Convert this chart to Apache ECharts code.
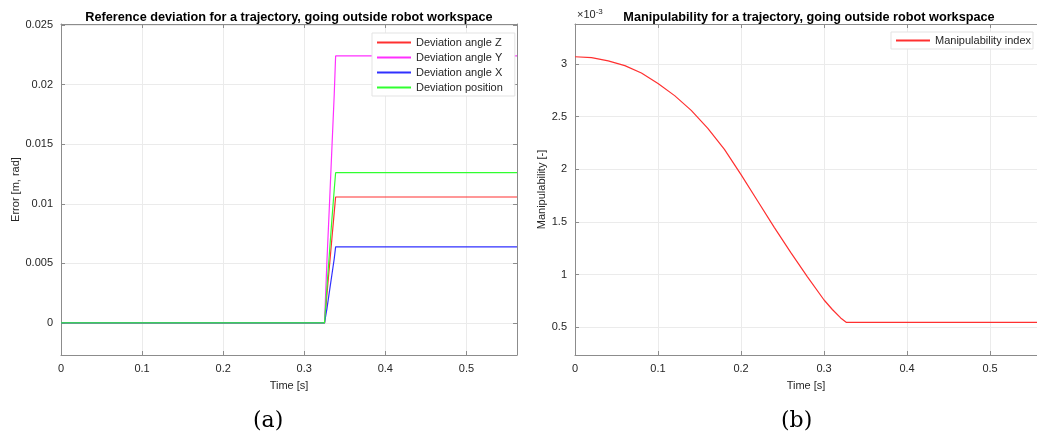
<!DOCTYPE html>
<html>
<head>
<meta charset="utf-8">
<script src="https://cdn.jsdelivr.net/npm/echarts@6/dist/echarts.min.js"></script>
<style>
  html, body { margin: 0; padding: 0; background: #fff; }
  #chart { width: 1037px; height: 439px; }
</style>
</head>
<body>
<div id="chart"></div>
<script>
// ---- (a) reference deviation ----
const devTime   = [0, 0.3250, 0.3280, 0.3310, 0.3340, 0.3370, 0.3387, 0.5624];
const devAngleZ = [0, 0, 0.0024, 0.0047, 0.0070, 0.0093, 0.01057, 0.01057];
const devAngleY = [0, 0, 0.0052, 0.0098, 0.0145, 0.0192, 0.02242, 0.02242];
const devAngleX = [0, 0, 0.0012, 0.0026, 0.0040, 0.0054, 0.00638, 0.00638];
const devPos    = [0, 0, 0.0030, 0.0058, 0.0086, 0.0112, 0.01261, 0.01261];
const devYTicks = [0, 0.005, 0.01, 0.015, 0.02, 0.025];

// ---- (b) manipulability, in units of 1e-3 ----
const manTime  = [0, 0.02, 0.04, 0.06, 0.08, 0.10, 0.12, 0.14, 0.16, 0.18, 0.20,
                  0.22, 0.24, 0.26, 0.28, 0.30, 0.31, 0.32, 0.327, 0.5565];
const manIndex = [3.069, 3.060, 3.030, 2.985, 2.915, 2.815, 2.700, 2.560, 2.390, 2.190, 1.950,
                  1.700, 1.450, 1.210, 0.980, 0.760, 0.670, 0.590, 0.547, 0.547];
const manYTicks = [0.5, 1, 1.5, 2, 2.5, 3];

const xTicks = [0, 0.1, 0.2, 0.3, 0.4, 0.5];

const pairs = (xs, ys) => xs.map((x, i) => [x, ys[i]]);

const FONT = 'Liberation Sans, Arial, Helvetica, sans-serif';
const AX = '#8c8c8c';
const TXT = '#262626';
const GRIDC = '#ebebeb';

const tickStyle = (ticks, show = true) => ({ show, inside: true, length: 4, lineStyle: { color: AX }, customValues: ticks });
const lineStyleAxis = { show: true, onZero: false, lineStyle: { color: AX, width: 1 } };

function xAxisPair(gridIndex, max) {
  const common = { type: 'value', gridIndex, min: 0, max, axisLine: lineStyleAxis, axisTick: tickStyle(xTicks) };
  return [
    Object.assign({}, common, {
      position: 'bottom',
      axisLabel: { show: true, color: TXT, fontSize: 11, fontFamily: FONT, margin: 8, customValues: xTicks },
      splitLine: { show: true, lineStyle: { color: GRIDC, width: 1 } },
      name: 'Time [s]', nameLocation: 'middle', nameGap: 25,
      nameTextStyle: { color: TXT, fontSize: 11, fontFamily: FONT },
    }),
    Object.assign({}, common, { position: 'top', axisLabel: { show: false }, splitLine: { show: false } }),
  ];
}

function yAxisPair(gridIndex, min, max, ticks, name, nameGap, rightTicks) {
  const common = { type: 'value', gridIndex, min, max, axisLine: lineStyleAxis, axisTick: tickStyle(ticks) };
  return [
    Object.assign({}, common, {
      position: 'left',
      axisLabel: { show: true, color: TXT, fontSize: 11, fontFamily: FONT, margin: 8, customValues: ticks,
                   formatter: v => String(v) },
      splitLine: { show: true, lineStyle: { color: GRIDC, width: 1 } },
      name, nameLocation: 'middle', nameGap,
      nameTextStyle: { color: TXT, fontSize: 11, fontFamily: FONT },
    }),
    Object.assign({}, common, { position: 'right', axisLabel: { show: false }, splitLine: { show: false },
      axisTick: tickStyle(ticks, rightTicks) }),
  ];
}

const lineSeries = (name, data, color, xi, yi) => ({
  name, type: 'line', data, xAxisIndex: xi, yAxisIndex: yi,
  symbol: 'none', animation: false, z: 3,
  lineStyle: { color, width: 1.2 }, itemStyle: { color },
});

const legendBase = {
  orient: 'vertical', itemWidth: 34, itemHeight: 13, itemGap: 4,
  itemStyle: { opacity: 0 },
  backgroundColor: '#fff', borderColor: '#e3e3e3', borderWidth: 1,
  textStyle: { color: TXT, fontSize: 11, fontFamily: FONT },
};

const chart = echarts.init(document.getElementById('chart'), null, { renderer: 'canvas' });
chart.setOption({
  backgroundColor: '#fff',
  animation: false,
  title: [
    { text: 'Reference deviation for a trajectory, going outside robot workspace', left: 284, top: 6, textAlign: 'center',
      textStyle: { fontSize: 12.7, fontWeight: 'bold', color: '#000', fontFamily: FONT } },
    { text: 'Manipulability for a trajectory, going outside robot workspace', left: 804, top: 6, textAlign: 'center',
      textStyle: { fontSize: 12.7, fontWeight: 'bold', color: '#000', fontFamily: FONT } },
  ],
  grid: [
    { left: 61, right: 520, top: 24, bottom: 84, show: false },
    { left: 575, right: -2, top: 24, bottom: 84, show: false },
  ],
  xAxis: [...xAxisPair(0, 0.5624), ...xAxisPair(1, 0.5565)],
  yAxis: [...yAxisPair(0, -0.0027, 0.0251, devYTicks, 'Error [m, rad]', 39, true),
          ...yAxisPair(1, 0.238, 3.38, manYTicks, 'Manipulability [-]', 26, false)],
  legend: [
    Object.assign({}, legendBase, { left: 372, top: 33, padding: [4, 12, 3, 4],
      data: ['Deviation angle Z', 'Deviation angle Y', 'Deviation angle X', 'Deviation position'] }),
    Object.assign({}, legendBase, { left: 891, top: 32, padding: [3, 2, 3, 4],
      data: ['Manipulability index'] }),
  ],
  series: [
    lineSeries('Deviation angle Z', pairs(devTime, devAngleZ), '#ff3030', 0, 0),
    lineSeries('Deviation angle Y', pairs(devTime, devAngleY), '#ff30ff', 0, 0),
    lineSeries('Deviation angle X', pairs(devTime, devAngleX), '#3030ff', 0, 0),
    lineSeries('Deviation position', pairs(devTime, devPos), '#30ff30', 0, 0),
    lineSeries('Manipulability index', pairs(manTime, manIndex), '#ff3030', 2, 2),
  ],
  graphic: [
    { type: 'text', left: 577, top: 8, style: {
        text: '×10{sup|-3}', fill: TXT, font: '11px ' + FONT,
        rich: { sup: { fontSize: 8, fill: TXT, fontFamily: FONT, verticalAlign: 'top', padding: [0, 0, 6, 0] } } } },
    { type: 'text', left: 253, top: 410, style: { text: '(a)', fill: '#000', font: '22px "DejaVu Serif", "Liberation Serif", serif' } },
    { type: 'text', left: 781, top: 410, style: { text: '(b)', fill: '#000', font: '22px "DejaVu Serif", "Liberation Serif", serif' } },
  ],
});
</script>
</body>
</html>
